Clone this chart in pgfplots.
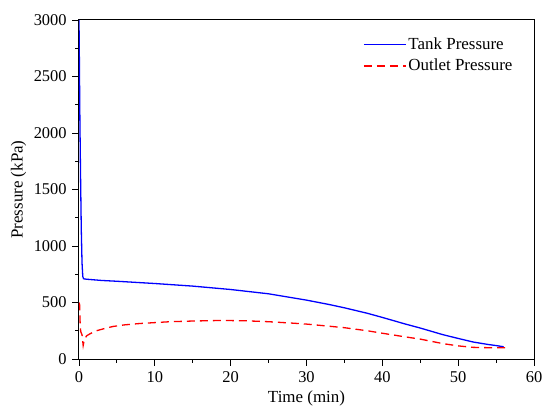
\documentclass[border=0pt]{standalone}
\usepackage{fontspec}
\setmainfont{Liberation Serif}
\usepackage{pgfplots}
\pgfplotsset{compat=1.18}
\begin{document}
\fontsize{17}{20}\selectfont
\begin{tikzpicture}
\useasboundingbox (-79bp,-58bp) rectangle (471bp,359bp);
\begin{axis}[
  at={(0,0)}, anchor=south west,
  scale only axis, width=455bp, height=339bp,
  xmin=0, xmax=60, ymin=0, ymax=3000,
  xtick={0,10,...,60}, ytick={0,500,...,3000},
  minor x tick num=1, minor y tick num=1,
  tick align=outside, xtick pos=left, ytick pos=left,
  major tick length=6.5bp, minor tick length=3.5bp,
  every tick/.style={black, line width=0.9bp},
  axis line style={line width=1bp},
  /pgf/number format/1000 sep={},
  /pgf/number format/assume math mode=true,
  tick label style={font=\fontsize{16.5}{19}\selectfont},
  label style={font=\fontsize{17}{20}\selectfont},
  xlabel={Time (min)}, ylabel={Pressure (kPa)},
  xlabel style={yshift=3bp},
  ylabel style={yshift=-4bp},
  legend style={draw=none, fill=none, at={(0.622,0.958)}, anchor=north west,
    font=\fontsize{17}{20}\selectfont, row sep=3bp, inner sep=1bp},
  legend cell align=left,
  legend image code/.code={\draw[#1, line width=1.3bp] (0bp,0bp) -- (42bp,0bp);},
]
\addplot[blue, line width=1.3bp] coordinates {
(0,3000)(0.05,2650)(0.12,2100)(0.2,1650)(0.3,1150)(0.4,850)(0.5,730)(0.6,710)
(1,706)(3,695)(5,688)(10,668)(15,645)(20,615)(25,577)(30,521)(33,482)(35,453)
(38,405)(40,368)(43,310)(45,274)(48,215)(50,182)(52,150)(54,128)(55,119)(56,108)
};
\addlegendentry{Tank Pressure}
\addplot[red, line width=1.3bp, dash pattern=on 8bp off 5bp] coordinates {
(0,500)(0.08,480)(0.15,320)(0.22,245)(0.3,230)(0.4,215)(0.55,120)(0.7,170)
(1.0,205)(1.5,225)(2.3,250)(3.5,272)(4.5,288)(6,302)(8,314)(10,322)(12,330)
(15,336)(18,340)(20,340)(22,338)(25,330)(28,318)(30,309)(33,290)(35,277)
(38,250)(40,228)(43,196)(45,176)(48,136)(50,116)(52,103)(54,100)(56.5,100)
};
\addlegendentry{Outlet Pressure}
\end{axis}
\end{tikzpicture}
\end{document}
